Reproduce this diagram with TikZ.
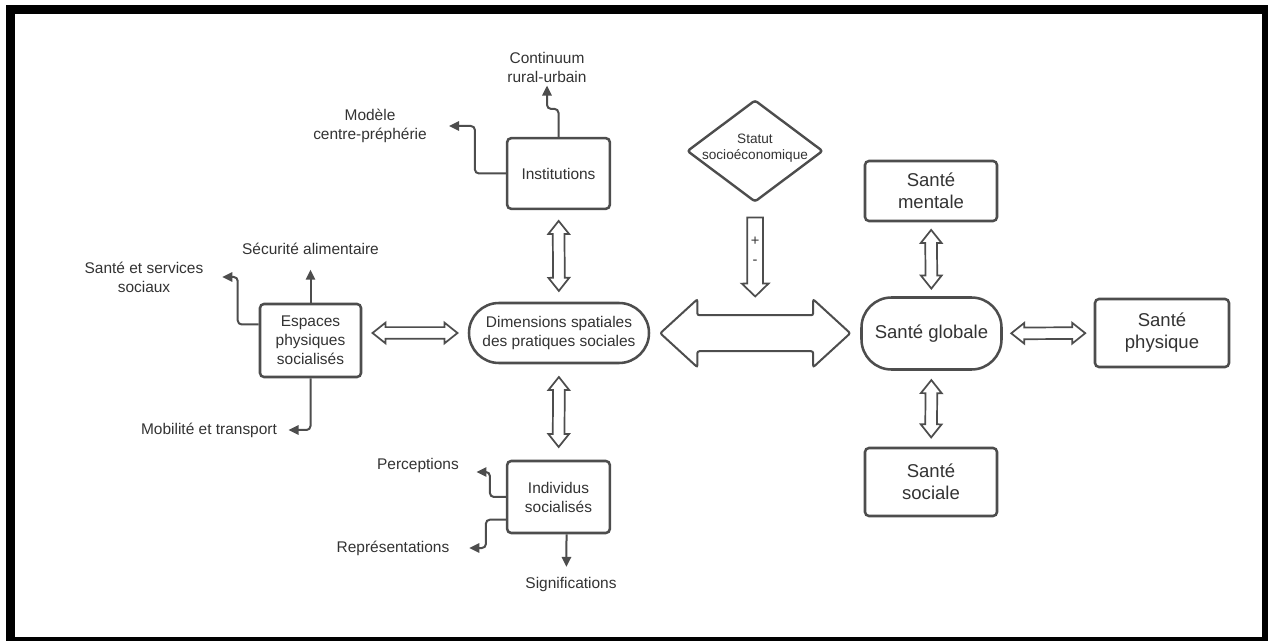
\documentclass[tikz,border=0pt]{standalone}
\usepackage{fontspec}
\setmainfont{Liberation Sans}
\usetikzlibrary{shapes.geometric,shapes.arrows,arrows.meta,calc}
\definecolor{LineGray}{RGB}{77,77,77}
\definecolor{TextGray}{RGB}{51,51,51}

\begin{document}
\begin{tikzpicture}[
    x=0.75pt, y=-0.75pt,
    every node/.style={text=TextGray},
    box/.style={rectangle, draw=LineGray, fill=white, line width=1.9pt, rounded corners=3pt, align=center, font=\fontsize{11.6}{14.25}\selectfont},
    santebox/.style={box, font=\fontsize{13.9}{16.5}\selectfont, minimum width=99pt, minimum height=51pt},
    pill/.style={box, rounded corners=22.5pt},
    decision/.style={diamond, draw=LineGray, fill=white, line width=1.8pt, rounded corners=2pt, aspect=1.333, minimum width=102pt, minimum height=76.5pt, inner xsep=-12pt, inner ysep=0pt, font=\fontsize{10.2}{12}\selectfont},
    lbl/.style={align=center, inner sep=2pt, font=\fontsize{11.6}{14.25}\selectfont},
    elbow/.style={draw=LineGray, line width=1.5pt, rounded corners=3pt, -{Triangle[length=7.5pt, width=7pt]}},
    link/.style={double arrow, draw=LineGray, fill=white, line width=1.3pt, inner xsep=0pt, inner ysep=3.75pt, double arrow head extend=3.4pt, double arrow tip angle=77, minimum width=0pt, sloped, midway},
    bigarrow/.style={double arrow, draw=LineGray, fill=white, line width=1.5pt, rounded corners=1.5pt, inner xsep=0pt, inner ysep=12.75pt, double arrow head extend=12pt, double arrow tip angle=85, minimum width=0pt, minimum height=142.5pt},
    pmarrow/.style={single arrow, draw=LineGray, fill=white, line width=1.3pt, inner xsep=0pt, inner ysep=5.25pt, single arrow head extend=4.1pt, single arrow tip angle=92, minimum width=0pt, minimum height=59.25pt, sloped, pos=0.45},
    sign/.style={inner sep=0pt, font=\fontsize{11}{12}\selectfont}
]
\useasboundingbox (0,0) rectangle (1268,641);
\draw[line width=6.75pt, black] (10.5,10) rectangle (1266,641.5);

% === SPATIAL SIDE ===
\node[pill, minimum width=135pt, minimum height=45pt] (dim) at (559,333) {Dimensions spatiales\\des pratiques sociales};
\node[box, minimum width=77pt, minimum height=53pt] (inst) at (558.5,173.5) {Institutions};
\node[box, minimum width=75.75pt, minimum height=54.75pt] (esp) at (310.5,340.5) {Espaces\\physiques\\socialisés};
\node[box, minimum width=77pt, minimum height=54pt] (indiv) at (558.5,497) {Individus\\socialisés};

\path (inst) -- (dim) node[link, minimum height=52.5pt] {};
\path (esp.east |- dim) -- (dim.west) node[link, minimum height=63.75pt] {};
\path (dim) -- (indiv) node[link, minimum height=52.5pt] {};

% institutions
\node[lbl] (cont) at (547,67.5) {Continuum\\rural-urbain};
\node[lbl] (modele) at (370,126) {Modèle\\centre-préphérie};
\draw[elbow] (inst.north) -- ++(0,-28) -| (cont.south);
\draw[elbow, shorten >=14.5pt] (inst.west) -- ++(-31,0) |- (modele.east);

% espaces
\node[lbl] (secu) at (310.5,249) {Sécurité alimentaire};
\node[lbl] (santeserv) at (144,277) {Santé et services\\sociaux};
\node[lbl] (mobil) at (209,430) {Mobilité et transport};
\draw[elbow, shorten >=9pt] (esp.north) -- (secu.south);
\draw[elbow, shorten >=12pt] ([yshift=12pt]esp.west) -- ++(-21,0) |- (santeserv.east);
\draw[elbow, shorten >=6.5pt] (esp.south) |- (mobil.east);

% individus
\node[lbl] (percep) at (418,466) {Perceptions};
\node[lbl] (repres) at (393,548) {Représentations};
\node[lbl] (signif) at (571,585) {Significations};
\draw[elbow, shorten >=11pt] (indiv.west) -- ++(-16,0) |- ($(percep.east)+(0,6)$);
\draw[elbow, shorten >=12.75pt] ([yshift=-17pt]indiv.west) -- ++(-20,0) |- (repres.east);
\draw[elbow, shorten >=6pt] ([xshift=6pt]indiv.south) -- ([xshift=-3.4pt]signif.north);

% === HEALTH SIDE ===
\node[pill, minimum width=105pt, minimum height=54pt, font=\fontsize{13.9}{16.5}\selectfont] (glob) at (931.5,333.5) {Santé globale};
\node[santebox, minimum height=45pt] (mentale) at (931,191) {Santé\\mentale};
\node[santebox, minimum width=100.5pt] (physique) at (1162,333) {Santé\\physique};
\node[santebox] (sociale) at (931,482) {Santé\\sociale};

\path (mentale) -- (glob) node[link, minimum height=44pt] {};
\path (glob) -- (sociale) node[link, minimum height=43pt] {};
\path (glob) -- (physique) node[link, minimum height=55.5pt] {};

% === LINK + STATUS ===
\node[bigarrow] (link) at ($(dim.east)!0.5!(glob.west)$) {};
\node[decision] (statut) at (755,151) {\raisebox{2pt}[\height][\depth]{\begin{tabular}{@{}c@{}}Statut\\socioéconomique\end{tabular}}};
\path (statut.south) -- (link.north) node[pmarrow] (pm) {};
\node[sign] (plus) at ($(pm.center)+(0,-12)$) {+};
\node[sign] (minus) at ($(pm.center)+(0,9)$) {-};

\end{tikzpicture}
\end{document}
